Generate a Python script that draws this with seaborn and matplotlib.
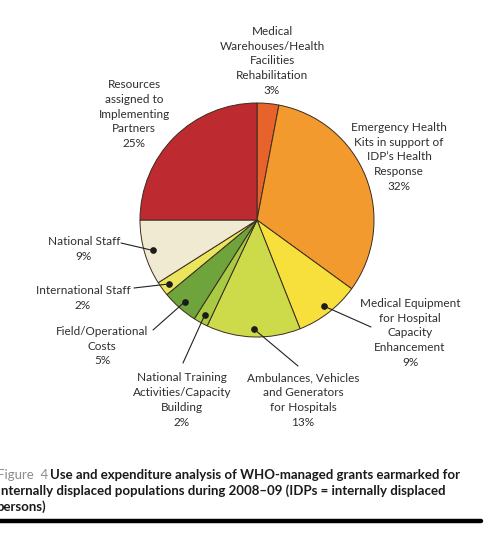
import numpy as np
import matplotlib
matplotlib.use("Agg")
import matplotlib.pyplot as plt
import seaborn as sns

# data, clockwise from 12 o'clock
labels = [
    "Medical\nWarehouses/Health\nFacilities\nRehabilitation\n3%",
    "Emergency Health\nKits in support of\nIDP\u2019s Health\nResponse\n32%",
    "Medical Equipment\nfor Hospital\nCapacity\nEnhancement\n9%",
    "Ambulances, Vehicles\nand Generators\nfor Hospitals\n13%",
    "National Training\nActivities/Capacity\nBuilding\n2%",
    "Field/Operational\nCosts\n5%",
    "International Staff\n2%",
    "National Staff\n9%",
    "Resources\nassigned to\nImplementing\nPartners\n25%",
]
shares = [3, 32, 9, 13, 2, 5, 2, 9, 25]
colors = ["#E8622B", "#F39A2F", "#F8E03C", "#CDDB4B", "#A9CA43",
          "#6FA33B", "#EAE55C", "#F1EAD2", "#BD2A30"]

# label centres (pixels, top-left origin) and leader start points
label_pos = [(272, 61), (399, 157), (410, 333), (303, 400), (182, 400),
             (102, 346), (83, 298), (84, 249), (134, 114)]
leader_start = [None, None, (371, 327), (298, 366), (183, 363),
                (153, 330), (134, 288), (121, 243), None]

W, H = 498, 542
cx, cy, R = 257, 220, 117

sns.set_style("white")
plt.rcParams['font.family'] = ['Lato', 'DejaVu Sans']

fig = plt.figure(figsize=(W / 100, H / 100), dpi=100)
ax = fig.add_axes([(cx - R) / W, (H - cy - R) / H, 2 * R / W, 2 * R / H])

wedges, _ = ax.pie(shares, colors=colors, startangle=90, counterclock=False,
                   radius=1, wedgeprops=dict(edgecolor="#3a2c20", linewidth=0.7))
ax.set_xlim(-1, 1)
ax.set_ylim(-1, 1)
ax.set_aspect("equal")
ax.axis("off")


def fpx(x, y):
    return (x / W, 1 - y / H)


for w, lab, pos, start in zip(wedges, labels, label_pos, leader_start):
    fig.text(*fpx(*pos), lab, ha="center", va="center", fontsize=8.5,
             color="#2e2e2e", linespacing=1.42)
    if start is not None:
        ang = np.deg2rad((w.theta1 + w.theta2) / 2)
        r = 0.93
        dot = (r * np.cos(ang), r * np.sin(ang))
        ax.annotate("", xy=dot, xycoords="data", xytext=fpx(*start),
                    textcoords="figure fraction", annotation_clip=False,
                    arrowprops=dict(arrowstyle="-", lw=0.8, color="#222222",
                                    shrinkA=0, shrinkB=0))
        ax.plot(*dot, "o", color="#1a1a1a", markersize=3.8, clip_on=False)

# caption
cap = dict(ha="left", va="center", fontsize=9.5, fontweight="bold", color="#1a1a1a")
fig.text(*fpx(-3, 475), "Figure  4", ha="left", va="center", fontsize=9.5,
         color="#8c8c8c")
fig.text(*fpx(50, 475), "Use and expenditure analysis of WHO-managed grants earmarked for", **cap)
fig.text(*fpx(-3, 491), "Internally displaced populations during 2008\u201309 (IDPs = internally displaced", **cap)
fig.text(*fpx(-4, 507), "persons)", **cap)

fig.add_artist(plt.Line2D([0, 481 / W], [1 - 521 / H, 1 - 521 / H],
                          transform=fig.transFigure, color="black", lw=3.2))

fig.savefig("out.png", dpi=100)
